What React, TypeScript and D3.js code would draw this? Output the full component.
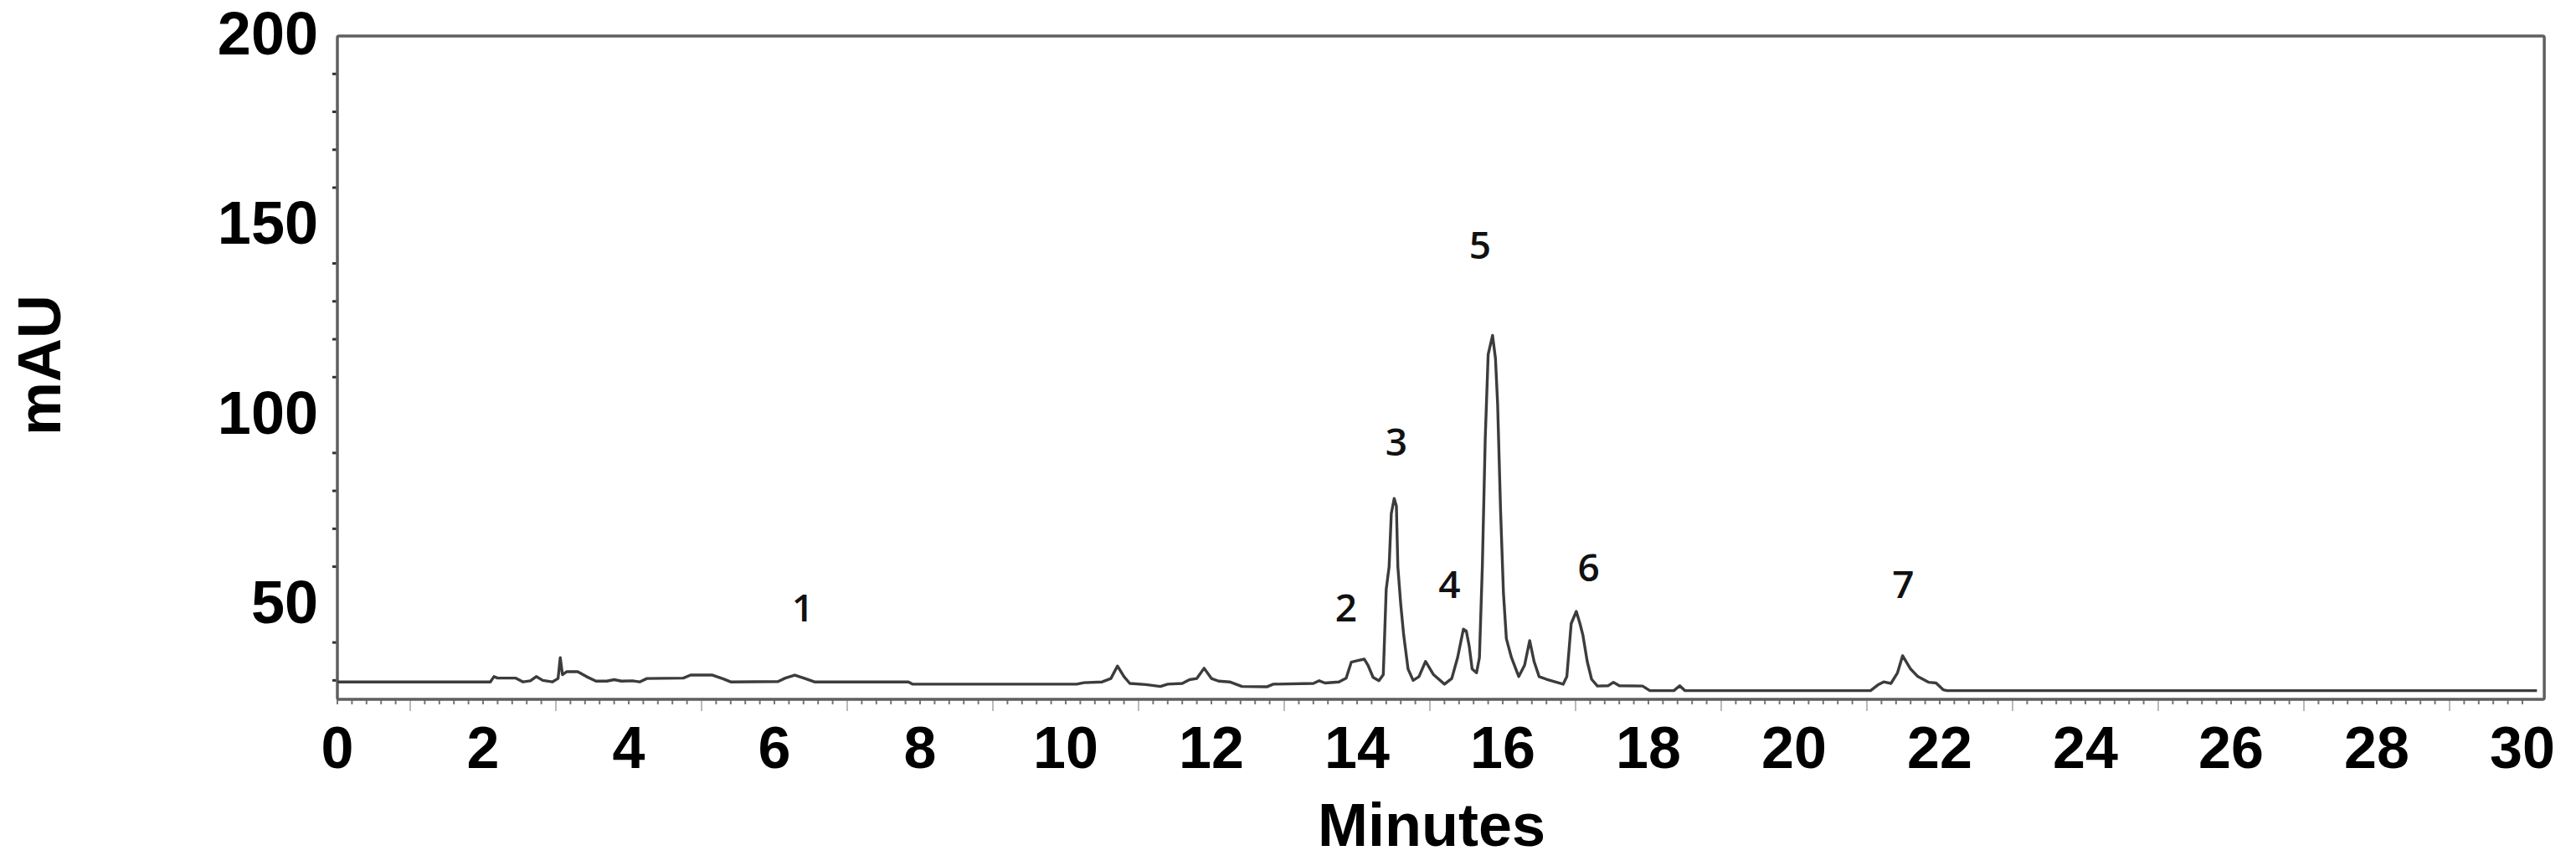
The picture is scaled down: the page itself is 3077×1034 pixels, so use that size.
import React from "react";
import * as d3 from "d3";

// Chromatogram trace: [minutes, mAU]
const traceTime = [
  0, 2.1, 2.15, 2.2, 2.45, 2.55, 2.65, 2.73, 2.82, 2.95, 3.03, 3.06, 3.09, 3.15, 3.3, 3.42, 3.55, 3.7, 3.8, 3.9,
  4.05, 4.15, 4.25, 4.75, 4.85, 5.15, 5.3, 5.4, 6.05, 6.15, 6.28, 6.42, 6.55, 7.84, 7.9, 10.15, 10.25, 10.5, 10.62,
  10.71, 10.8, 10.88, 11.1, 11.3, 11.4, 11.6, 11.7, 11.8, 11.9, 12.0, 12.1, 12.25, 12.42, 12.76, 12.85, 13.4, 13.48,
  13.56, 13.75, 13.85, 13.92, 14.0, 14.1, 14.15, 14.22, 14.3, 14.36, 14.4, 14.44, 14.47, 14.51, 14.54, 14.56, 14.6,
  14.64, 14.7, 14.77, 14.85, 14.94, 15.05, 15.2, 15.3, 15.38, 15.46, 15.5, 15.54, 15.58, 15.64, 15.68, 15.72, 15.76,
  15.8, 15.86, 15.9, 15.93, 15.97, 16.01, 16.05, 16.12, 16.22, 16.3, 16.37, 16.43, 16.5, 16.6, 16.83, 16.88, 16.94,
  17.01, 17.06, 17.1, 17.16, 17.22, 17.3, 17.45, 17.52, 17.6, 17.92, 18.02, 18.35, 18.43, 18.5, 21.05, 21.15, 21.23,
  21.33, 21.42, 21.49, 21.6, 21.7, 21.85, 21.95, 22.05, 22.1, 30.2,
];
const traceMAU = [
  29.6, 29.6, 31.0, 30.6, 30.6, 29.6, 29.9, 31.0, 30.0, 29.6, 30.5, 36.0, 31.5, 32.3, 32.3, 31.0, 29.8, 29.8, 30.2, 29.8,
  29.9, 29.6, 30.5, 30.6, 31.4, 31.4, 30.4, 29.6, 29.7, 30.6, 31.4, 30.5, 29.6, 29.6, 29.0, 29.0, 29.4, 29.6, 30.5,
  33.8, 31.0, 29.2, 28.9, 28.4, 29.0, 29.2, 30.2, 30.5, 33.2, 30.5, 29.8, 29.6, 28.4, 28.3, 29.0, 29.2, 29.9,
  29.3, 29.6, 30.6, 34.8, 35.2, 35.6, 34.0, 30.8, 29.9, 31.5, 54, 60, 74, 78, 76, 60, 50,
  42, 33, 30.0, 31, 35, 31.5, 29.0, 30.5, 36, 43.5, 43, 39, 33, 32, 36, 60, 94,
  116, 121, 115, 102.8, 75, 53, 41, 36, 31, 34, 40.5, 35, 31, 30.3, 29.0, 31, 45,
  48.2, 45, 42, 35, 30.3, 28.5, 28.6, 29.5, 28.6, 28.5, 27.3, 27.3, 28.6, 27.3, 27.3, 28.8, 29.6,
  29.2, 32, 36.5, 33, 31, 29.5, 29.3, 27.5, 27.3, 27.3,
];

// Peak labels
const peakNames = ["1", "2", "3", "4", "5", "6", "7"];
const peakLabelTime = [6.39, 13.85, 14.54, 15.27, 15.69, 17.18, 21.5];
const peakLabelMAU = [49.3, 49.1, 93.0, 55.3, 144.9, 59.9, 55.5];

// Axis ticks
const xTickLabels = [0, 2, 4, 6, 8, 10, 12, 14, 16, 18, 20, 22, 24, 26, 28, 30];
const yTickLabels = [50, 100, 150, 200];
const yMinorTicks = [30, 40, 60, 70, 80, 90, 110, 120, 130, 140, 160, 170, 180, 190];

const W = 3077;
const H = 1034;

export default function App() {
  const xMax = 30.3;
  const x = d3.scaleLinear().domain([0, 30]).range([403, 3013]);
  const y = d3.scaleLinear().domain([25, 200]).range([835, 43]);

  const pts: [number, number][] = traceTime.map((t, i) => [t, traceMAU[i]]);
  const line = d3
    .line<[number, number]>()
    .x((d) => x(d[0]))
    .y((d) => y(d[1]))
    .curve(d3.curveLinear);

  const minorX = d3.range(0, 151, 1).map((i) => i * 0.2);
  const oddX = d3.range(1, 30, 2);

  const axisFont = "'Liberation Sans', Arial, sans-serif";
  const frame = "#5f5f5f";

  return (
    <svg
      width={W}
      height={H}
      style={{ position: "absolute", left: 0, top: 0, background: "#fff" }}
      xmlns="http://www.w3.org/2000/svg"
    >
      <rect x={0} y={0} width={W} height={H} fill="#fff" />
      {/* x minor ticks */}
      {minorX.map((v, i) => (
        <line key={"mx" + i} x1={x(v)} x2={x(v)} y1={y(25)} y2={y(25) + 6} stroke="#777" strokeWidth={2} />
      ))}
      {oddX.map((v) => (
        <line key={"ox" + v} x1={x(v)} x2={x(v)} y1={y(25)} y2={y(25) + 14} stroke="#bbb" strokeWidth={2} />
      ))}
      {/* y minor ticks */}
      {yMinorTicks.map((v) => (
        <line key={"my" + v} x1={x(0) - 6} x2={x(0)} y1={y(v)} y2={y(v)} stroke="#333" strokeWidth={3} />
      ))}
      {/* frame */}
      <rect
        x={x(0)}
        y={y(200)}
        width={x(xMax) - x(0)}
        height={y(25) - y(200)}
        fill="none"
        stroke={frame}
        strokeWidth={3.5}
        rx={2}
      />
      {/* trace */}
      <path d={line(pts) || ""} fill="none" stroke="#3c3c3c" strokeWidth={3.4} strokeLinejoin="round" />
      {/* y tick labels */}
      {yTickLabels.map((v) => (
        <text
          key={"yl" + v}
          x={380}
          y={y(v) + 22}
          textAnchor="end"
          fontFamily={axisFont}
          fontWeight="bold"
          fontSize={72}
          fill="#000"
        >
          {v}
        </text>
      ))}
      {/* x tick labels */}
      {xTickLabels.map((v) => (
        <text
          key={"xl" + v}
          x={x(v)}
          y={917}
          textAnchor="middle"
          fontFamily={axisFont}
          fontWeight="bold"
          fontSize={70}
          fill="#000"
        >
          {v}
        </text>
      ))}
      {/* axis titles */}
      <text
        x={1710}
        y={1010}
        textAnchor="middle"
        fontFamily={axisFont}
        fontWeight="bold"
        fontSize={72}
        fill="#000"
      >
        Minutes
      </text>
      <text
        transform={`translate(72, 436) rotate(-90)`}
        textAnchor="middle"
        fontFamily={axisFont}
        fontWeight="bold"
        fontSize={72}
        fill="#000"
      >
        mAU
      </text>
      {/* peak labels */}
      {peakNames.map((n, i) => (
        <text
          key={"pk" + n}
          x={x(peakLabelTime[i])}
          y={y(peakLabelMAU[i])}
          dy="0.36em"
          textAnchor="middle"
          fontFamily="'Open Sans', 'Noto Sans', sans-serif"
          fontWeight={600}
          fontSize={46}
          fill="#111"
        >
          {n}
        </text>
      ))}
    </svg>
  );
}
